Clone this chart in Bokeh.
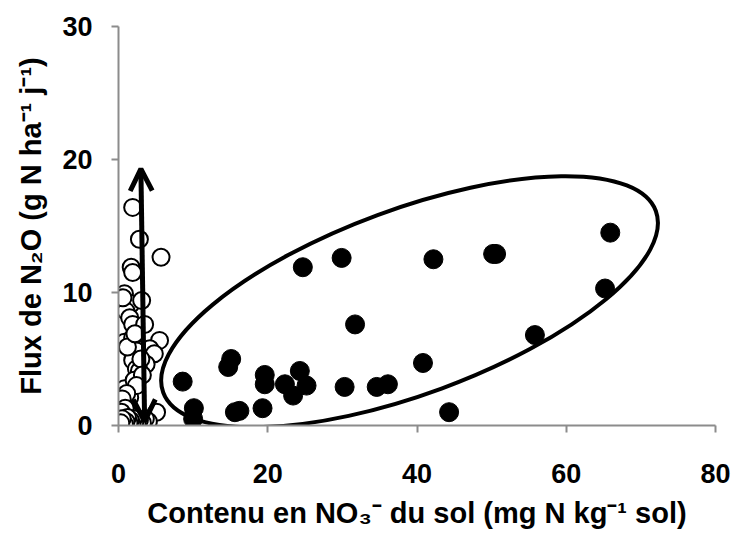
from bokeh.plotting import figure
from bokeh.models import Range1d, Arrow, OpenHead, FixedTicker
from bokeh.embed import file_html
from bokeh.resources import INLINE

# ---- data ----
# open circles (low NO3 group)
open_x = [1.9, 2.8, 5.7, 1.7, 1.9, 0.8, 1.7, 1.0, 1.5, 1.9, 3.5, 0.8, 1.9, 5.5, 4.2,
          2.4, 4.8, 1.9, 3.7, 2.4, 2.8, 0.8, 2.1, 1.5, 0.6, 5.1, 3.1, 0.6, 1.2, 2.2,
          3.0, 3.2, 2.4, 1.1, 0.5, 1.3, 0.9, 0.4, 4.0, 3.6, 3.2, 2.8, 2.5, 2.2, 2.0,
          1.8, 1.6, 1.4, 1.2, 1.0, 0.8, 0.5, 0.3]
open_y = [16.4, 14.0, 12.65, 11.9, 11.5, 9.9, 9.15, 8.6, 8.1, 7.6, 7.6, 6.26, 6.6, 6.4, 5.77,
          5.6, 5.4, 4.9, 4.6, 4.26, 4.1, 2.76, 3.4, 2.1, 1.6, 1.0, 9.4, 9.6, 5.9, 6.9,
          5.0, 3.8, 3.0, 2.4, 2.0, 0.9, 1.3, 1.0, 0.3, 0.5, 0.2, 0.4, 0.2, 0.3, 0.5,
          0.1, 0.4, 0.2, 0.6, 0.3, 0.1, 0.5, 0.2]

# filled circles (high NO3 group)
fill_x = [8.6, 10.1, 10.0, 15.1, 14.7, 16.2, 15.6, 19.3, 19.6, 19.6, 22.3, 24.3, 25.2, 23.4,
          24.7, 29.9, 31.7, 30.3, 34.6, 36.1, 40.8, 42.2, 44.3, 50.2, 50.6, 65.9, 65.2, 55.8]
fill_y = [3.3, 1.3, 0.5, 5.0, 4.4, 1.1, 1.0, 1.3, 3.8, 3.1, 3.1, 4.1, 3.0, 2.25,
          11.9, 12.6, 7.6, 2.9, 2.9, 3.1, 4.7, 12.5, 1.0, 12.9, 12.9, 14.5, 10.3, 6.8]

x_ticks = [0, 20, 40, 60, 80]
y_ticks = [0, 10, 20, 30]

# annotations
arrow_top = (3.0, 19.3)
arrow_bottom = (3.5, 0.3)
ellipse_center = (39.0, 9.3)

FONT = "Liberation Sans"

p = figure(width=733, height=538, output_backend="svg", toolbar_location=None,
           x_range=Range1d(0, 80), y_range=Range1d(0, 30),
           min_border_left=118, min_border_right=18, min_border_top=26, min_border_bottom=113)
p.frame_width = 597
p.frame_height = 399
p.outline_line_color = None
p.xgrid.visible = False
p.ygrid.visible = False
p.background_fill_color = "white"
p.border_fill_color = "white"

for ax, ticks in ((p.xaxis[0], x_ticks), (p.yaxis[0], y_ticks)):
    ax.ticker = FixedTicker(ticks=ticks)
    ax.axis_line_color = "#8c8c8c"
    ax.axis_line_width = 2
    ax.major_tick_line_color = "#8c8c8c"
    ax.major_tick_line_width = 2
    ax.major_tick_in = 0
    ax.major_tick_out = 7
    ax.minor_tick_line_color = None
    ax.major_label_text_font = FONT
    ax.major_label_text_font_style = "bold"
    ax.major_label_text_font_size = "27px"
    ax.major_label_text_color = "black"
    ax.axis_label_text_font = FONT
    ax.axis_label_text_font_style = "bold"
    ax.axis_label_text_font_size = "29px"
    ax.axis_label_text_color = "black"

p.xaxis.major_label_standoff = 31
p.xaxis.axis_label_standoff = 11
p.yaxis.major_label_standoff = 19
p.yaxis.axis_label_standoff = 12
p.xaxis.axis_label = "Contenu en NO\u2083\u207b du sol (mg N kg\u207b\u00b9 sol)"
p.yaxis.axis_label = "Flux de N\u2082O (g N ha\u207b\u00b9 j\u207b\u00b9)"

p.scatter(fill_x, fill_y, size=19, marker="circle", fill_color="black", line_color="black")
p.scatter(open_x, open_y, size=17, marker="circle", fill_color="white", line_color="black",
          line_width=2)

p.ellipse(x=[ellipse_center[0]], y=[ellipse_center[1]], width=525, height=185,
          width_units="screen", height_units="screen", angle=0.353,
          fill_color=None, line_color="black", line_width=4)

p.add_layout(Arrow(x_start=arrow_bottom[0], y_start=arrow_bottom[1],
                   x_end=arrow_top[0], y_end=arrow_top[1],
                   line_width=5, line_color="black",
                   start=OpenHead(size=22, line_width=5, line_color="black"),
                   end=OpenHead(size=22, line_width=5, line_color="black")))

open("out.html", "w").write(file_html(p, INLINE))
